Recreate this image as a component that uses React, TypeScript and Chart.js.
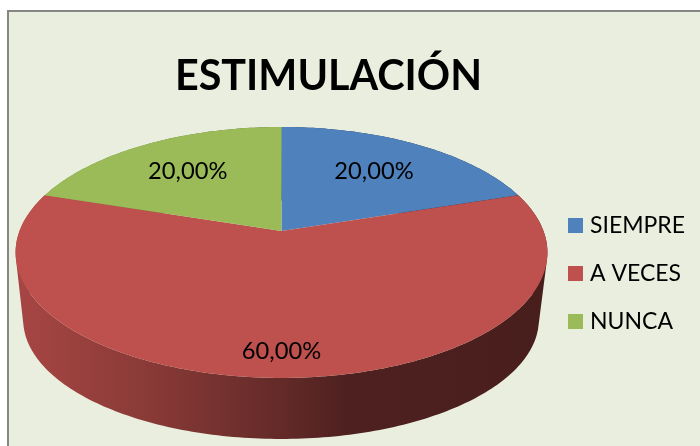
import React, { useEffect, useRef } from "react";
import { Chart, registerables } from "chart.js";

Chart.register(...registerables);

const titleText = "ESTIMULACIÓN";
const categories = ["SIEMPRE", "A VECES", "NUNCA"];
const seriesValues = [20, 60, 20];
const sliceColors = ["#4F81BD", "#BE504D", "#9BBB59"];

const FONT = "Lato, Carlito, Calibri, sans-serif";

// perspective projection of a unit circle: far side compressed towards the apex
const K = 0.171;
const top = { cx: 281.5, cy: 231, rx: 262, ry: 121.8 };
const bottom = { cx: 281, cy: 299.4, rx: 254, ry: 115.7 };
const labelRadius = [0.655, 0.843, 0.665];

const project = (p: typeof top, angle: number, r = 1) => {
  const u = Math.cos(angle) * r;
  const v = Math.sin(angle) * r;
  const w = 1 - K * v;
  return { x: p.cx + (p.rx * u) / w, y: p.cy + (p.ry * v) / w };
};

const shade = (hex: string, f: number) => {
  const n = parseInt(hex.slice(1), 16);
  const c = [(n >> 16) & 255, (n >> 8) & 255, n & 255].map((x) => Math.round(x * f));
  return `rgb(${c[0]},${c[1]},${c[2]})`;
};

const arcPoints = (p: typeof top, a0: number, a1: number) => {
  const n = Math.max(8, Math.ceil(((a1 - a0) * 180) / Math.PI));
  const pts = [];
  for (let i = 0; i <= n; i++) pts.push(project(p, a0 + ((a1 - a0) * i) / n));
  return pts;
};

const panelPlugin = {
  id: "panel",
  beforeDraw(chart: any) {
    const { ctx, width, height } = chart;
    ctx.save();
    ctx.fillStyle = "#ffffff";
    ctx.fillRect(0, 0, width, height);
    ctx.fillStyle = "#868686";
    ctx.fillRect(7, 10, width - 7, height - 10);
    ctx.fillStyle = "#EAEEDE";
    ctx.fillRect(9, 12, width - 9, height - 12);
    ctx.restore();
  },
};

const layoutPlugin = {
  id: "placeBoxes",
  afterLayout(chart: any) {
    const legend = chart.legend;
    const pad = legend.options.labels.padding;
    const w = legend.right - legend.left;
    const h = legend.bottom - legend.top;
    legend.left = 568 + 4.5 - pad;
    legend.right = legend.left + w;
    legend.top = 189;
    legend.bottom = legend.top + h;
    const title = chart.titleBlock;
    title.left = 0;
    title.right = 657;
  },
};

const pie3dPlugin = {
  id: "pie3d",
  beforeDatasetDraw(chart: any) {
    const { ctx } = chart;
    const arcs = chart.getDatasetMeta(0).data;
    ctx.save();
    // side wall: all strips in one path, each wound the same way, so there are no seams
    arcs.forEach((arc: any, i: number) => {
      const base = sliceColors[i];
      const g = ctx.createLinearGradient(16, 0, 548, 0);
      g.addColorStop(0, shade(base, 0.88));
      g.addColorStop(0.25, shade(base, 0.72));
      g.addColorStop(0.5, shade(base, 0.52));
      g.addColorStop(0.62, shade(base, 0.41));
      g.addColorStop(1, shade(base, 0.38));
      const a = arcPoints(top, arc.startAngle, arc.endAngle);
      const b = arcPoints(bottom, arc.startAngle, arc.endAngle);
      ctx.beginPath();
      for (let j = 0; j < a.length - 1; j++) {
        const quad = [a[j], a[j + 1], b[j + 1], b[j]];
        let area = 0;
        quad.forEach((pt, q) => {
          const nx = quad[(q + 1) % 4];
          area += pt.x * nx.y - nx.x * pt.y;
        });
        if (area < 0) quad.reverse();
        quad.forEach((pt, q) => (q ? ctx.lineTo(pt.x, pt.y) : ctx.moveTo(pt.x, pt.y)));
        ctx.closePath();
      }
      ctx.fillStyle = g;
      ctx.fill("nonzero");
    });
    // top face
    arcs.forEach((arc: any, i: number) => {
      const a = arcPoints(top, arc.startAngle, arc.endAngle);
      ctx.beginPath();
      ctx.moveTo(top.cx, top.cy);
      a.forEach((pt) => ctx.lineTo(pt.x, pt.y));
      ctx.closePath();
      ctx.fillStyle = sliceColors[i];
      ctx.fill();
    });
    ctx.restore();
    return false;
  },
  afterDatasetsDraw(chart: any) {
    const { ctx } = chart;
    const arcs = chart.getDatasetMeta(0).data;
    const values: number[] = chart.data.datasets[0].data;
    const total = values.reduce((s, v) => s + v, 0);
    ctx.save();
    ctx.font = `23.7px ${FONT}`;
    ctx.fillStyle = "#000";
    ctx.textAlign = "center";
    ctx.textBaseline = "middle";
    arcs.forEach((arc: any, i: number) => {
      const mid = (arc.startAngle + arc.endAngle) / 2;
      const p = project(top, mid, labelRadius[i]);
      const label = ((values[i] / total) * 100).toFixed(2).replace(".", ",") + "%";
      ctx.fillText(label, p.x, p.y);
    });
    ctx.restore();
  },
};

export default function App() {
  const ref = useRef<HTMLCanvasElement>(null);
  useEffect(() => {
    const chart = new Chart(ref.current as HTMLCanvasElement, {
      type: "pie",
      data: {
        labels: categories,
        datasets: [{ data: seriesValues, backgroundColor: sliceColors, borderWidth: 0 }],
      },
      options: {
        responsive: false,
        animation: false,
        layout: { padding: { left: 15, top: 0, right: 0, bottom: 0 } },
        plugins: {
          tooltip: { enabled: false },
          title: {
            display: true,
            text: titleText,
            color: "#000",
            font: { family: FONT, size: 41.3, weight: "bold" },
            padding: { top: 52, bottom: 10 },
          },
          legend: {
            position: "right",
            align: "start",
            labels: {
              color: "#000",
              boxWidth: 6,
              boxHeight: 6,
              padding: 25,
              font: { family: FONT, size: 23 },
              generateLabels(c: any) {
                const base = (Chart as any).overrides.doughnut.plugins.legend.labels.generateLabels(c);
                return base.map((l: any) => ({ ...l, lineWidth: 9, strokeStyle: l.fillStyle }));
              },
            },
          },
        },
      } as any,
      plugins: [panelPlugin, layoutPlugin, pie3dPlugin],
    });
    return () => chart.destroy();
  }, []);
  return (
    <canvas
      ref={ref}
      width={700}
      height={446}
      style={{ position: "fixed", left: 0, top: 0, display: "block" }}
    />
  );
}
